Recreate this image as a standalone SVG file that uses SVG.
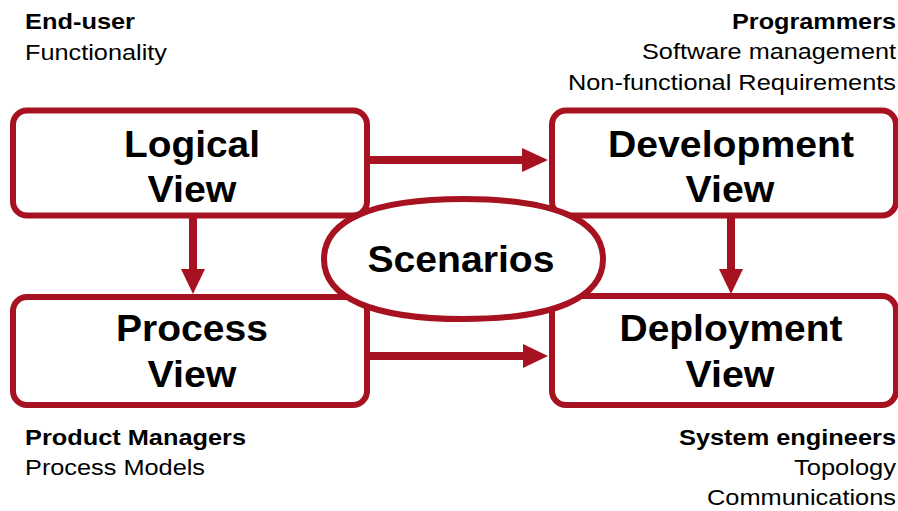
<svg xmlns="http://www.w3.org/2000/svg" width="898" height="511" viewBox="0 0 898 511">
<defs>
<style>
.box{fill:#fff;stroke:#a6121f;stroke-width:6}
.line{stroke:#a6121f;stroke-width:8;fill:none}
.head{fill:#a6121f}
.big{font-family:"Liberation Sans",Arial,sans-serif;font-weight:bold;font-size:37px;fill:#000;text-anchor:middle}
.lbl{font-family:"Liberation Sans",Arial,sans-serif;font-size:22px;fill:#000}
.b{font-weight:bold}
.r{text-anchor:end}
</style>
</defs>
<rect width="898" height="511" fill="#fff"/>
<g id="logical">
<rect class="box" x="13" y="110.5" width="354" height="105" rx="14"/>
<text class="big" x="192" y="157" textLength="136" lengthAdjust="spacingAndGlyphs">Logical</text>
<text class="big" x="192" y="202" textLength="89" lengthAdjust="spacingAndGlyphs">View</text>
</g>
<g id="process">
<rect class="box" x="13" y="297" width="354" height="108" rx="14"/>
<text class="big" x="192" y="341" textLength="152" lengthAdjust="spacingAndGlyphs">Process</text>
<text class="big" x="192" y="387" textLength="89" lengthAdjust="spacingAndGlyphs">View</text>
</g>
<g id="development">
<rect class="box" x="552" y="110.5" width="344" height="105" rx="14"/>
<text class="big" x="731" y="157" textLength="246" lengthAdjust="spacingAndGlyphs">Development</text>
<text class="big" x="730" y="202" textLength="89" lengthAdjust="spacingAndGlyphs">View</text>
</g>
<g id="deployment">
<rect class="box" x="552" y="296" width="344" height="109" rx="14"/>
<text class="big" x="731" y="341" textLength="223" lengthAdjust="spacingAndGlyphs">Deployment</text>
<text class="big" x="730" y="387" textLength="89" lengthAdjust="spacingAndGlyphs">View</text>
</g>
<g id="connectors">
<line class="line" x1="367" y1="160" x2="526" y2="160"/>
<polygon class="head" points="522,148 548,160 522,172"/>
<line class="line" x1="367" y1="356" x2="526" y2="356"/>
<polygon class="head" points="523,344 548,356 523,368"/>
<line class="line" x1="193" y1="215" x2="193" y2="272"/>
<polygon class="head" points="181,269 205,269 193,294"/>
<line class="line" x1="731" y1="215" x2="731" y2="272"/>
<polygon class="head" points="719,269 743,269 731,294"/>
</g>
<g id="scenarios">
<path class="box" d="M324,259 C324,220 372.8,199 463.5,199 C554.2,199 603,220 603,259 C603,298 554.2,319 463.5,319 C372.8,319 324,298 324,259Z"/>
<text class="big" x="461" y="272" textLength="187" lengthAdjust="spacingAndGlyphs">Scenarios</text>
</g>
<g id="labels">
<text class="lbl b" x="25" y="29" textLength="110" lengthAdjust="spacingAndGlyphs">End-user</text>
<text class="lbl" x="25" y="60" textLength="142" lengthAdjust="spacingAndGlyphs">Functionality</text>
<text class="lbl b r" x="896" y="29" textLength="164" lengthAdjust="spacingAndGlyphs">Programmers</text>
<text class="lbl r" x="896" y="59" textLength="254" lengthAdjust="spacingAndGlyphs">Software management</text>
<text class="lbl r" x="896" y="90" textLength="328" lengthAdjust="spacingAndGlyphs">Non-functional Requirements</text>
<text class="lbl b" x="25" y="445" textLength="221" lengthAdjust="spacingAndGlyphs">Product Managers</text>
<text class="lbl" x="25" y="475" textLength="180" lengthAdjust="spacingAndGlyphs">Process Models</text>
<text class="lbl b r" x="896" y="445" textLength="217" lengthAdjust="spacingAndGlyphs">System engineers</text>
<text class="lbl r" x="896" y="475" textLength="102" lengthAdjust="spacingAndGlyphs">Topology</text>
<text class="lbl r" x="896" y="505" textLength="189" lengthAdjust="spacingAndGlyphs">Communications</text>
</g>
</svg>
